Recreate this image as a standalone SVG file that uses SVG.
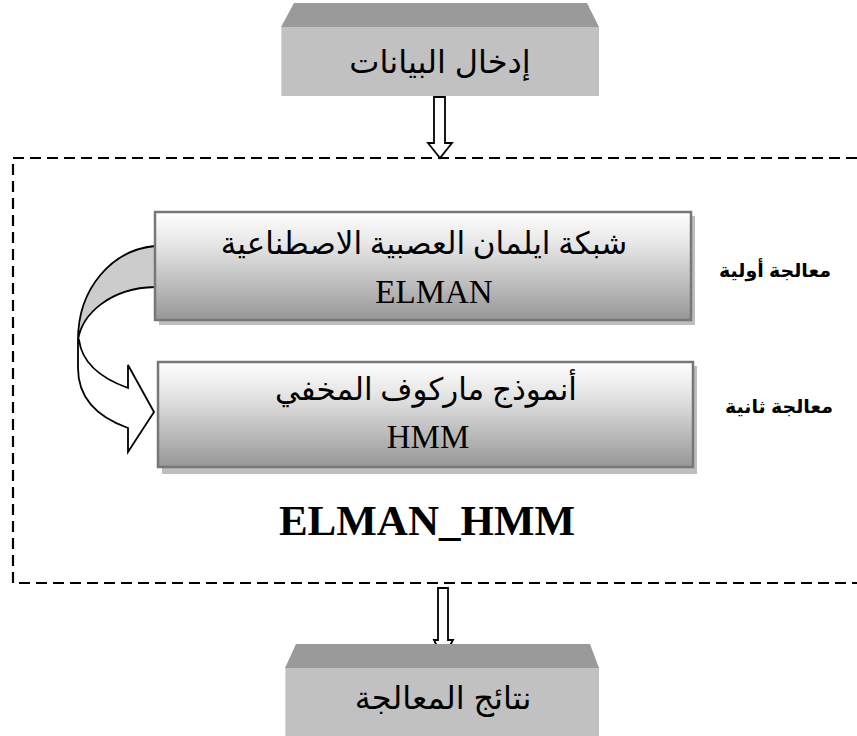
<svg xmlns="http://www.w3.org/2000/svg" width="857" height="736" viewBox="0 0 857 736">
<style>
.face{fill:#c1c1c1}
.top{fill:#9a9a9a}
.ar{font-family:"Liberation Sans","DejaVu Sans",sans-serif;font-size:32px;fill:#000;text-anchor:middle}
.box{fill:url(#g);stroke:#777;stroke-width:2.5}
.shadow{fill:#bdbdbd}
.bt{font-family:"Liberation Serif","DejaVu Serif","DejaVu Sans",serif;font-size:31px;fill:#000;text-anchor:middle}
.en{font-size:33px}
.lab{font-family:"Liberation Sans","DejaVu Sans",sans-serif;font-size:19px;font-weight:bold;fill:#000;text-anchor:middle}
.arrow{fill:#fff;stroke:#000;stroke-width:1.8;stroke-linejoin:miter}
.dash{fill:none;stroke:#000;stroke-width:2.2;stroke-dasharray:11 6}
</style>
<defs>
<linearGradient id="g" x1="0" y1="0" x2="0" y2="1">
<stop offset="0" stop-color="#fefefe"/>
<stop offset="0.3" stop-color="#e6e6e6"/>
<stop offset="1" stop-color="#979797"/>
</linearGradient>
</defs>
<g id="input">
<polygon class="top" points="281,27 294,3 587,3 599,27"/>
<rect class="face" x="281" y="27" width="318" height="69"/>
<line x1="281.5" y1="27" x2="281.5" y2="96" stroke="#d8d8d8" stroke-width="1"/>
<text class="ar" x="440" y="73">إدخال البيانات</text>
</g>
<g id="connectors">
<path class="dash" d="M857,158 L13,158 L13,583 L857,583"/>
<path class="arrow" d="M434,97 L445,97 L445,143 L452,143 L440,158 L428,143 L434,143 Z"/>
<path class="arrow" d="M438,588 L448,588 L448,640 L453,640 L443,659 L434,640 L438,640 Z"/>
<path d="M155,246 C112,250 78,288 78,340 C82,314 110,288 155,287 Z" fill="#cccccc" stroke="#000" stroke-width="1.8"/>
<path class="arrow" d="M78,340 L78,368 C78,400 100,418 128,428 L128,452 L154,412 L128,365 L128,388 C100,378 82,362 79,340 Z"/>
</g>
<g id="elman">
<rect class="shadow" x="159" y="216" width="536" height="109"/>
<rect class="box" x="155" y="212" width="536" height="108"/>
<text class="bt" x="424" y="254">شبكة ايلمان العصبية الاصطناعية</text>
<text class="bt en" x="434" y="303">ELMAN</text>
</g>
<g id="hmm">
<rect class="shadow" x="162" y="366" width="535" height="108"/>
<rect class="box" x="158" y="362" width="535" height="105"/>
<text class="bt" x="426" y="400">أنموذج ماركوف المخفي</text>
<text class="bt en" x="428" y="448">HMM</text>
</g>
<g id="labels">
<text class="lab" x="775" y="277">معالجة أولية</text>
<text class="lab" x="779" y="413">معالجة ثانية</text>
</g>
<g id="title">
<text x="427" y="535" font-family="Liberation Serif, serif" font-size="43" font-weight="bold" text-anchor="middle">ELMAN_HMM</text>
</g>
<g id="output">
<polygon class="top" points="285,668 296,644 590,644 599,668"/>
<rect class="face" x="285" y="668" width="314" height="68"/>
<line x1="285.5" y1="668" x2="285.5" y2="736" stroke="#d8d8d8" stroke-width="1"/>
<text class="ar" x="443" y="709">نتائج المعالجة</text>
</g>
</svg>
